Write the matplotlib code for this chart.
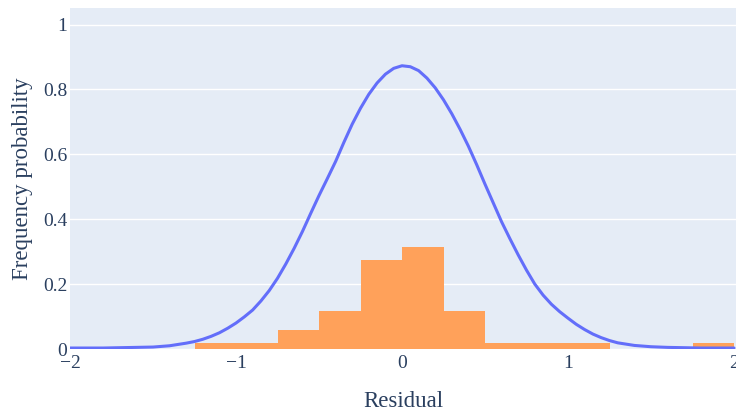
#!/usr/bin/env python3
"""Residual histogram with a fitted density curve."""

import matplotlib

matplotlib.use("Agg")
import matplotlib.pyplot as plt

# histogram: left edge of each 0.25-wide bin and the number of residuals in it
bin_left = [-1.25, -1.0, -0.75, -0.5, -0.25, 0.0, 0.25, 0.5, 0.75, 1.0, 1.75]
bin_count = [1, 1, 3, 6, 14, 16, 6, 1, 1, 1, 1]
bin_width = 0.25

# density curve
curve_x = [-2.0, -1.9, -1.8, -1.7, -1.6, -1.5, -1.4,
           -1.3, -1.25, -1.2, -1.15, -1.1, -1.05, -1.0,
           -0.95, -0.9, -0.85, -0.8, -0.75, -0.7, -0.65, -0.6, -0.55, -0.5,
           -0.45, -0.4, -0.35, -0.3, -0.25, -0.2, -0.15, -0.1, -0.05, 0.0,
           0.05, 0.1, 0.15, 0.2, 0.25, 0.3, 0.35, 0.4, 0.45, 0.5,
           0.55, 0.6, 0.65, 0.7, 0.75, 0.8, 0.85, 0.9, 0.95, 1.0,
           1.05, 1.1, 1.15, 1.2, 1.25, 1.3,
           1.4, 1.5, 1.6, 1.7, 1.8, 1.9, 2.0]
curve_y = [0.003, 0.003, 0.003, 0.004, 0.005, 0.006, 0.010,
           0.018, 0.023, 0.030, 0.039, 0.050, 0.064, 0.080,
           0.099, 0.120, 0.148, 0.180, 0.218, 0.262, 0.310, 0.362, 0.418, 0.473,
           0.525, 0.578, 0.637, 0.693, 0.742, 0.785, 0.820, 0.847, 0.865, 0.873,
           0.870, 0.858, 0.835, 0.805, 0.768, 0.725, 0.677, 0.625, 0.568, 0.508,
           0.450, 0.392, 0.340, 0.290, 0.243, 0.200, 0.166, 0.138, 0.115, 0.095,
           0.076, 0.060, 0.046, 0.035, 0.026, 0.019,
           0.011, 0.007, 0.005, 0.004, 0.003, 0.003, 0.003]

yticks = [0, 0.2, 0.4, 0.6, 0.8, 1]
xticks = [-2, -1, 0, 1, 2]

TEXT = "#2a3f5f"
plt.rcParams["font.family"] = ["Liberation Serif", "DejaVu Serif"]

fig = plt.figure(figsize=(7.36, 4.17), dpi=100)
ax = fig.add_axes([70 / 736, 1 - 349 / 417, 666 / 736, 341 / 417])
ax.set_facecolor("#E5ECF6")

total = sum(bin_count)
probs = [c / total for c in bin_count]
ax.bar(bin_left, probs, width=bin_width, align="edge", color="#FFA15A",
       linewidth=0, zorder=2)
ax.plot(curve_x, curve_y, color="#636EFA", linewidth=2.2, zorder=3,
        solid_capstyle="round", solid_joinstyle="round")

ax.set_xlim(-2, 2.012)
ax.set_ylim(0, 1.051)
ax.set_yticks(yticks)
ax.set_yticklabels(["0", "0.2", "0.4", "0.6", "0.8", "1"])
ax.set_xticks(xticks)
ax.set_xticklabels(["\u22122", "\u22121", "0", "1", "2"])
ax.yaxis.grid(True, color="white", linewidth=1.0, zorder=1)
ax.set_axisbelow(True)
for side in ax.spines.values():
    side.set_visible(False)
ax.tick_params(length=0, labelsize=14, colors=TEXT)
ax.tick_params(axis="y", pad=2)
ax.tick_params(axis="x", pad=4)

ax.set_xlabel("Residual", fontsize=16.5, color=TEXT, labelpad=14)
ax.set_ylabel("Frequency probability", fontsize=16.5, color=TEXT, labelpad=7)

fig.savefig("out.png", dpi=100)
